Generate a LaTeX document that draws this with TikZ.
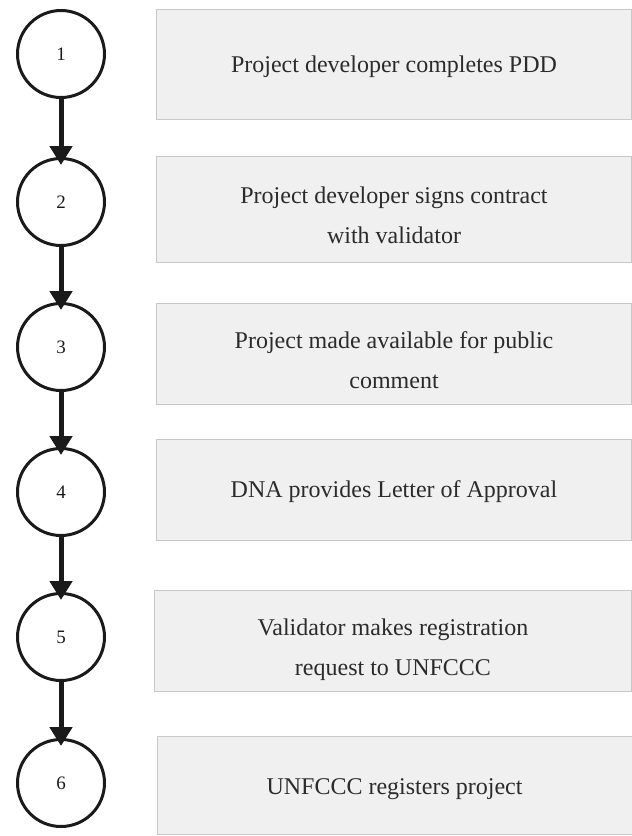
\documentclass[tikz,border=0pt]{standalone}
\usepackage{fontspec}
\setmainfont{Liberation Serif}
\usepackage{tikz}
\usetikzlibrary{arrows.meta}
\definecolor{boxfill}{HTML}{F0F0F0}
\definecolor{boxline}{HTML}{C8C8C8}
\definecolor{inkgray}{HTML}{2B2B2B}
\definecolor{ringblack}{HTML}{1A1A1A}

\begin{document}
\begin{tikzpicture}[x=1pt,y=1pt,
		stepring/.style={circle,draw=ringblack,line width=3pt,minimum size=87pt,inner sep=0pt,font=\fontsize{19}{20}\selectfont,text=ringblack},
		stepbox/.style={rectangle,draw=boxline,fill=boxfill,line width=1pt,minimum width=475pt,inner sep=0pt},
		steptext/.style={align=center,inner sep=0pt,font=\fontsize{24}{40}\selectfont,text=inkgray},
		flow/.style={draw=ringblack,line width=5pt,-{Triangle[width=22pt,length=19pt]}}]
	\useasboundingbox (0,0) rectangle (632,-836);
	
	% numbered steps
	\node[stepring] (c1) at (61,-54) {1};
	\node[stepring] (c2) at (61,-202) {2};
	\node[stepring] (c3) at (61,-347) {3};
	\node[stepring] (c4) at (61,-492) {4};
	\node[stepring] (c5) at (61,-637) {5};
	\node[stepring] (c6) at (61,-783) {6};
	
	% description boxes
	\node[stepbox,minimum height=110pt] (b1) at (394,-64.5) {};
	\node[stepbox,minimum height=106pt] (b2) at (394,-209.5) {};
	\node[stepbox,minimum height=101pt] (b3) at (394,-354) {};
	\node[stepbox,minimum height=101pt] (b4) at (394,-490) {};
	\node[stepbox,minimum height=101pt,minimum width=477pt] (b5) at (393,-641) {};
	\node[stepbox,minimum height=98pt] (b6) at (394.5,-785.5) {};
	
	% texts in the boxes
	\node[steptext] (t1) at ([yshift=-2pt]b1.center) {Project developer completes PDD};
	\node[steptext] (t2) at ([yshift=-6pt]b2.center) {Project developer signs contract\\with validator};
	\node[steptext] (t3) at ([yshift=-6pt]b3.center) {Project made available for public\\comment};
	\node[steptext] (t4) at ([yshift=-2pt]b4.center) {DNA provides Letter of Approval};
	\node[steptext] (t5) at ([yshift=-9pt]b5.center) {Validator makes registration\\request to UNFCCC};
	\node[steptext] (t6) at ([yshift=-4pt]b6.center) {UNFCCC registers project};
	
	% arrows between the steps
	\foreach \a/\b in {c1/c2,c2/c3,c3/c4,c4/c5,c5/c6}
		\draw[flow] ([yshift=2pt]\a.south) -- ([yshift=-8pt]\b.north);
	
\end{tikzpicture}
\end{document}
